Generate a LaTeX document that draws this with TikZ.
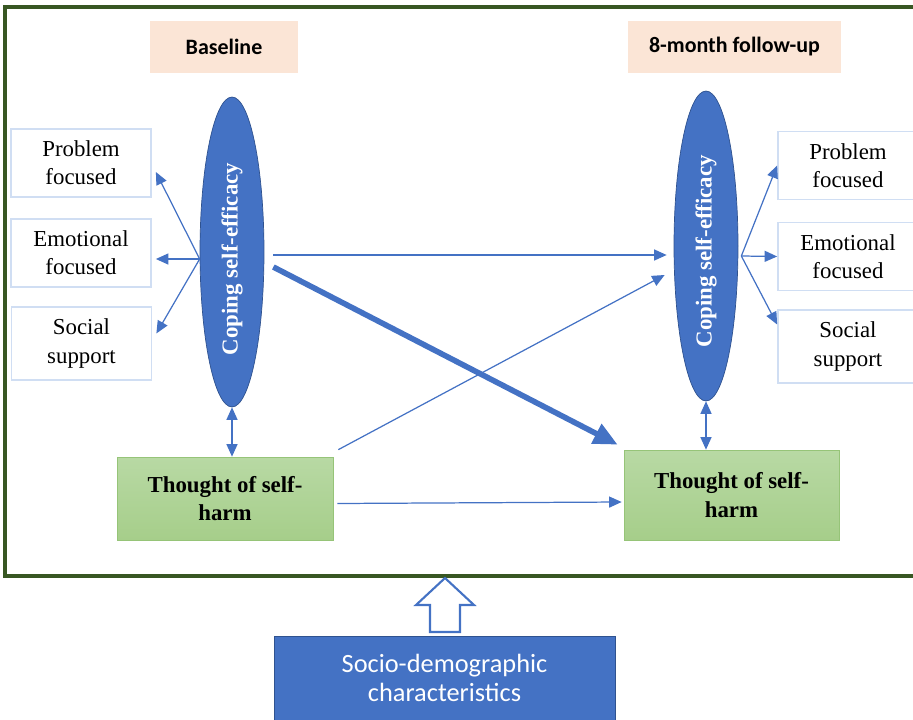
\documentclass[tikz,border=0pt]{standalone}
\usepackage{fontspec}
\setmainfont{Liberation Serif}
\newfontfamily\calibri{Carlito}
\usetikzlibrary{shapes.geometric,arrows.meta,calc}

\definecolor{frameGreen}{RGB}{56,87,35}
\definecolor{peach}{RGB}{251,229,214}
\definecolor{copeBlue}{RGB}{68,114,196}
\definecolor{copeEdge}{RGB}{47,82,143}
\definecolor{boxEdge}{RGB}{208,222,243}
\definecolor{thTop}{RGB}{184,217,164}
\definecolor{thBot}{RGB}{166,206,138}
\definecolor{thEdge}{RGB}{150,196,120}

\tikzset{
  timebox/.style={fill=peach, minimum height=1.04cm, font=\calibri\bfseries\fontsize{12.5}{15}\selectfont},
  copeell/.style={ellipse, draw=copeEdge, fill=copeBlue, rotate=90, minimum width=6.2cm, minimum height=1.28cm,
    inner sep=0pt, text=white, font=\bfseries\fontsize{13}{15}\selectfont},
  factorbox/.style={draw=boxEdge, line width=1pt, minimum width=2.8cm, minimum height=1.36cm, align=center,
    font=\fontsize{13}{16}\selectfont},
  thoughtbox/.style={draw=thEdge, top color=thTop, bottom color=thBot, minimum width=4.32cm, align=center,
    font=\bfseries\fontsize{13}{16.4}\selectfont},
  socbox/.style={draw=copeEdge, fill=copeBlue, minimum width=6.82cm, minimum height=1.68cm, align=center,
    text=white, font=\calibri\fontsize{15}{17}\selectfont},
  thinarr/.style={copeBlue, line width=0.7pt, -{Triangle[length=2.5mm,width=2.2mm]}},
  dblarr/.style={copeBlue, line width=0.7pt, {Triangle[length=2.5mm,width=2.2mm]}-{Triangle[length=2.5mm,width=2.2mm]}},
  thickarr/.style={copeBlue, line width=3.2pt, -{Triangle[length=4.8mm,width=4.2mm]}}
}

\begin{document}
\begin{tikzpicture}[x=0.02cm,y=-0.02cm]
  \useasboundingbox (0,0) rectangle (913,720);
  \draw[frameGreen, line width=2pt] (5,7) rectangle (930,576);

  \node[timebox, minimum width=2.96cm] (baseT) at (224,47) {Baseline};
  \node[timebox, minimum width=4.26cm] (followT) at (734.5,47) {8-month follow-up};

  \node[copeell] (copeL) at (232,252) {Coping self-efficacy\hspace*{8pt}};
  \node[copeell] (copeR) at (706,246) {Coping self-efficacy\hspace*{6pt}};

  \node[factorbox] (probL) at (81,163) {Problem\\focused};
  \node[factorbox] (emoL) at (81,253) {Emotional\\focused};
  \node[factorbox, minimum height=1.46cm] (socL) at (81.5,343.5) {Social\\support};
  \node[factorbox] (probR) at (848,165.5) {Problem\\focused};
  \node[factorbox] (emoR) at (848,256.5) {Emotional\\focused};
  \node[factorbox, minimum height=1.46cm] (socR) at (848,346.5) {Social\\support};

  \node[thoughtbox, minimum height=1.66cm] (thoughtL) at (225,498.5) {Thought of self-\\harm};
  \node[thoughtbox, minimum width=4.3cm, minimum height=1.8cm] (thoughtR) at (731.5,495) {Thought of self-\\harm};

  \node[socbox] (socio) at (444.5,678) {Socio-demographic\\characteristics};
  \draw[copeBlue, line width=1.2pt, fill=white] (430,632) -- (430,605) -- (416,605) -- (445,578)
    -- (474,605) -- (460,605) -- (460,632) -- cycle;

  \coordinate (fanL) at ($(copeL.north)+(0,7)$);
  \foreach \b/\dy in {probL/9, emoL/6, socL/-10}
    \draw[thinarr] (fanL) -- ($(\b.east)+(4,\dy)$);
  \coordinate (fanR) at ($(copeR.south)+(3,10)$);
  \foreach \b/\dy in {probR/0, emoR/0, socR/-22}
    \draw[thinarr] (fanR) -- ($(\b.west)+(0,\dy)$);

  \draw[dblarr] (copeL.west) -- (copeL.west |- thoughtL.north);
  \draw[dblarr] (copeR.west) -- (copeR.west |- thoughtR.north);

  \draw[thinarr] ($(copeL.south)+(9,3)$) -- ($(copeR.north)+(-7,9)$);
  \draw[thickarr] ($(copeL.south)+(9,15)$) -- ($(thoughtR.north west)+(-6,-5)$);
  \draw[thinarr] ($(thoughtL.north east)+(5,-7)$) -- ($(copeR.north)+(-9,29)$);
  \draw[thinarr] ($(thoughtL.east)+(4,5)$) -- ($(thoughtR.west)+(-2,7)$);
\end{tikzpicture}
\end{document}
